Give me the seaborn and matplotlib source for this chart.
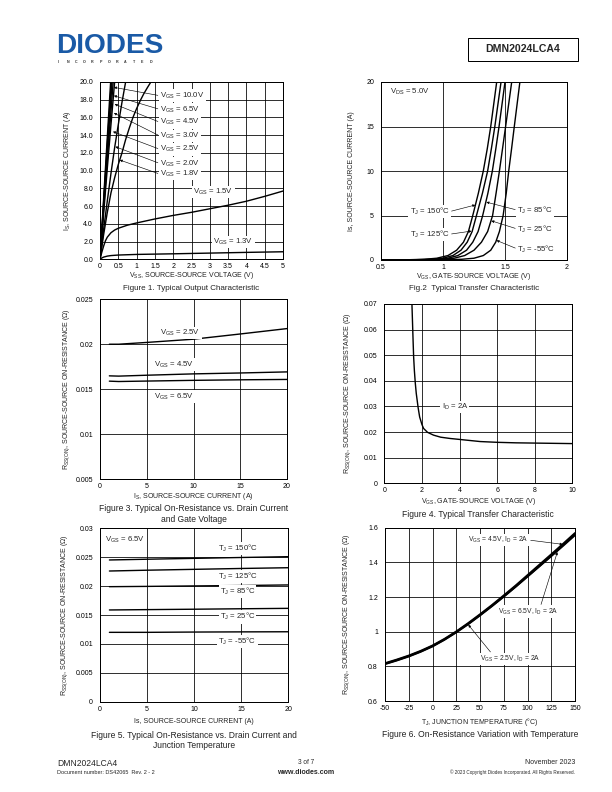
import numpy as np
import pandas as pd
import seaborn as sns
import matplotlib.pyplot as plt
from matplotlib.patches import Rectangle

# ---- Figure 1 : output characteristic (Vss, Is) ----
f1_vgs10_x = [0, 0.1, 0.2, 0.29]
f1_vgs10_y = [0, 6.9, 13.8, 20.0]
f1_vgs65_x = [0, 0.1, 0.2, 0.31]
f1_vgs65_y = [0, 6.5, 13.0, 20.0]
f1_vgs45_x = [0, 0.1, 0.2, 0.33]
f1_vgs45_y = [0, 6.2, 12.3, 20.0]
f1_vgs30_x = [0, 0.1, 0.2, 0.3, 0.36]
f1_vgs30_y = [0, 5.7, 11.3, 16.7, 20.0]
f1_vgs25_x = [0, 0.1, 0.2, 0.3, 0.4]
f1_vgs25_y = [0, 5.2, 10.3, 15.2, 20.0]
f1_vgs20_x = [0, 0.1, 0.2, 0.3, 0.4, 0.5, 0.6, 0.7]
f1_vgs20_y = [0, 3.4, 6.6, 9.7, 12.6, 15.2, 17.7, 20.0]
f1_vgs18_x = [0, 0.1, 0.2, 0.3, 0.4, 0.5, 0.6, 0.7, 0.8, 0.9, 1.0, 1.1, 1.2, 1.3, 1.39]
f1_vgs18_y = [0, 2.8, 5.3, 7.5, 9.2, 10.7, 12.0, 13.5, 14.8, 16.0, 17.0, 17.9, 18.7, 19.4, 20.0]
f1_vgs15_x = [0, 0.05, 0.1, 0.15, 0.2, 0.3, 0.4, 0.5, 0.75, 1, 1.5, 2, 2.5, 3, 3.5, 4, 4.5, 5]
f1_vgs15_y = [0, 0.8, 1.5, 2.1, 2.5, 3.0, 3.3, 3.5, 3.85, 4.1, 4.55, 4.95, 5.3, 5.7, 6.1, 6.55, 7.1, 7.7]
f1_vgs13_x = [0, 0.05, 0.1, 0.2, 0.3, 0.5, 1, 2, 3, 4, 5]
f1_vgs13_y = [0, 0.15, 0.25, 0.36, 0.42, 0.48, 0.55, 0.62, 0.7, 0.78, 0.85]

# ---- Figure 2 : transfer characteristic ----
f2_is = [0, 0.02, 0.08, 0.2, 0.5, 1.1, 2.0, 3.2, 5.0, 7.5, 10.0, 12.5, 15.0, 20.0]
f2_t150 = [0.5, 0.7, 0.85, 0.95, 1.04, 1.11, 1.165, 1.205, 1.24, 1.285, 1.325, 1.357, 1.385, 1.433]
f2_t125 = [0.5, 0.75, 0.9, 1.0, 1.08, 1.145, 1.195, 1.235, 1.27, 1.318, 1.36, 1.39, 1.418, 1.468]
f2_t85 = [0.5, 0.8, 0.95, 1.04, 1.12, 1.19, 1.24, 1.283, 1.32, 1.362, 1.398, 1.426, 1.452, 1.50]
f2_t25 = [0.5, 0.85, 1.0, 1.09, 1.175, 1.25, 1.31, 1.36, 1.40, 1.428, 1.455, 1.48, 1.505, 1.554]
f2_tm55 = [0.5, 1.0, 1.15, 1.25, 1.325, 1.385, 1.425, 1.455, 1.485, 1.51, 1.53, 1.553, 1.575, 1.62]

# ---- Figure 3 : Rss(on) vs Is and Vgs ----
f3_is = [1, 2, 5, 10, 15, 20]
f3_vgs25 = [0.0200, 0.0200, 0.0202, 0.02056, 0.02114, 0.02174]
f3_vgs45 = [0.01648, 0.01645, 0.01655, 0.0167, 0.0168, 0.01692]
f3_vgs65 = [0.01589, 0.01585, 0.0159, 0.01598, 0.01604, 0.01608]

# ---- Figure 4 : Rss(on) vs Vgs ----
f4_vgs = [1.47, 1.5, 1.53, 1.56, 1.6, 1.65, 1.7, 1.8, 1.88, 2.0, 2.09, 2.3, 2.62, 3.0,
          3.5, 4.04, 5.1, 6, 7, 8, 9, 10]
f4_rds = [0.07, 0.063, 0.056, 0.0494, 0.044, 0.039, 0.0351, 0.0295, 0.0259, 0.023, 0.0214,
          0.0199, 0.0188, 0.018, 0.0175, 0.0171, 0.0163, 0.016, 0.0158, 0.0157, 0.0156, 0.0155]

# ---- Figure 5 : Rss(on) vs Is and Tj ----
f5_is = [1, 5, 10, 15, 20]
f5_t150 = [0.02452, 0.02465, 0.0248, 0.02495, 0.02509]
f5_t125 = [0.02261, 0.02275, 0.0229, 0.02305, 0.02318]
f5_t85 = [0.0199, 0.01995, 0.02003, 0.0201, 0.0202]
f5_t25 = [0.01587, 0.01593, 0.016, 0.01608, 0.01615]
f5_tm55 = [0.0120, 0.0120, 0.01205, 0.01208, 0.0121]

# ---- Figure 6 : Rss(on) vs Tj ----
f6_tj = [-50, -37.5, -25, -12.5, 0, 12.5, 25, 37.5, 50, 62.5, 75, 87.5, 100, 112.5, 125, 137.5, 150]
f6_vgs25 = [0.813, 0.834, 0.857, 0.884, 0.915, 0.953, 0.996, 1.043, 1.094, 1.147, 1.202,
            1.259, 1.318, 1.377, 1.436, 1.496, 1.557]
f6_vgs45 = [0.818, 0.839, 0.862, 0.889, 0.920, 0.958, 1.001, 1.049, 1.100, 1.153, 1.209,
            1.266, 1.326, 1.386, 1.446, 1.507, 1.569]
f6_vgs65 = [0.815, 0.836, 0.859, 0.886, 0.917, 0.955, 0.998, 1.045, 1.096, 1.149, 1.204,
            1.261, 1.320, 1.379, 1.439, 1.500, 1.562]

sns.set_theme(style="white")
plt.rcParams['font.family'] = ['Liberation Sans', 'DejaVu Sans']
plt.rcParams['mathtext.fontset'] = 'custom'
plt.rcParams['mathtext.rm'] = 'Liberation Sans'
plt.rcParams['mathtext.it'] = 'Liberation Sans:italic'
plt.rcParams['mathtext.default'] = 'regular'

W, H = 612, 792
fig = plt.figure(figsize=(W / 72, H / 72), dpi=72)
fig.patch.set_facecolor('white')


def add_ax(l, t, r, b):
    return fig.add_axes([l / W, 1 - b / H, (r - l) / W, (b - t) / H])


def make_df(curves):
    parts = []
    for name, (xs, ys) in curves.items():
        parts.append(pd.DataFrame({'x': xs, 'y': ys, 'curve': name}))
    return pd.concat(parts, ignore_index=True)


def draw(ax, curves, lw=1.4):
    df = make_df(curves)
    sns.lineplot(data=df, x='x', y='y', units='curve', estimator=None,
                 color='black', lw=lw, ax=ax)


def style(ax, xlim, ylim, xticks, yticks, xtl, ytl, fs=7):
    ax.set_xlim(xlim)
    ax.set_ylim(ylim)
    ax.set_xticks(xticks)
    ax.set_yticks(yticks)
    ax.set_xticklabels(xtl)
    ax.set_yticklabels(ytl)
    ax.set_axisbelow(True)
    ax.grid(True, color='black', lw=0.8)
    ax.tick_params(length=0, labelsize=fs, colors='black')
    ax.tick_params(axis='x', pad=4)
    ax.tick_params(axis='y', pad=7)
    for s in ax.spines.values():
        s.set_color('black')
        s.set_linewidth(1.0)


def texts(ax, xlab, ylab, xl_y, yl_x, caps, fs=7, cfs=8.5):
    ax.set_xlabel(xlab, fontsize=fs, color='#222', va='center')
    ax.set_ylabel(ylab, fontsize=fs, color='#222', va='center')
    ax.xaxis.set_label_coords(0.5, xl_y)
    ax.yaxis.set_label_coords(yl_x, 0.5)
    for cy, c in caps:
        ax.text(0.5, cy, c, transform=ax.transAxes, ha='center', va='center',
                fontsize=cfs, color='#222')


box = dict(fc='white', ec='none', pad=1.2)
arr = dict(arrowstyle='-|>', color='black', lw=0.6, mutation_scale=5, shrinkA=1, shrinkB=0)
afs = 7.8

# Figure 1
ax1 = add_ax(100, 82, 283, 259.3)
draw(ax1, {
    '10.0': (f1_vgs10_x, f1_vgs10_y), '6.5': (f1_vgs65_x, f1_vgs65_y),
    '4.5': (f1_vgs45_x, f1_vgs45_y), '3.0': (f1_vgs30_x, f1_vgs30_y),
    '2.5': (f1_vgs25_x, f1_vgs25_y), '2.0': (f1_vgs20_x, f1_vgs20_y),
    '1.8': (f1_vgs18_x, f1_vgs18_y), '1.5': (f1_vgs15_x, f1_vgs15_y),
    '1.3': (f1_vgs13_x, f1_vgs13_y)})
xt = [0, 0.5, 1, 1.5, 2, 2.5, 3, 3.5, 4, 4.5, 5]
style(ax1, (0, 5), (0, 20), xt, np.arange(0, 21, 2), ['0', '0.5', '1', '1.5', '2', '2.5', '3', '3.5', '4', '4.5', '5'],
      ['%.1f' % v for v in np.arange(0, 21, 2)])
texts(ax1, 'V$_{SS}$, SOURCE-SOURCE VOLTAGE (V)', 'I$_{S}$, SOURCE-SOURCE CURRENT (A)', -0.094, -0.18,
      [(-0.162, 'Figure 1. Typical Output Characteristic')], cfs=8)
f1_labels = [('10.0V', 18.45, (0.38, 19.4)), ('6.5V', 16.9, (0.38, 18.45)), ('4.5V', 15.45, (0.40, 17.5)),
             ('3.0V', 13.9, (0.38, 16.5)), ('2.5V', 12.4, (0.355, 14.4)), ('2.0V', 10.8, (0.42, 12.7)),
             ('1.8V', 9.6, (0.54, 11.2))]
for lab, ly, tip in f1_labels:
    ax1.annotate('V$_{GS}$ = ' + lab, xy=tip, xytext=(1.64, ly), ha='left', va='center', fontsize=afs,
                 bbox=box, arrowprops=dict(arr, relpos=(0, 0.5)))
ax1.text(2.55, 7.6, 'V$_{GS}$ = 1.5V', ha='left', va='center', fontsize=afs, bbox=box)
ax1.text(3.1, 1.96, 'V$_{GS}$ = 1.3V', ha='left', va='center', fontsize=afs, bbox=box)

# Figure 2
ax2 = add_ax(381, 82, 567, 260)
draw(ax2, {'150': (f2_t150, f2_is), '125': (f2_t125, f2_is), '85': (f2_t85, f2_is),
           '25': (f2_t25, f2_is), '-55': (f2_tm55, f2_is)})
style(ax2, (0.5, 2), (0, 20), [0.5, 1, 1.5, 2], [0, 5, 10, 15, 20], ['0.5', '1', '1.5', '2'],
      ['0', '5', '10', '15', '20'])
texts(ax2, 'V$_{GS}$, GATE-SOURCE VOLTAGE (V)', 'Is, SOURCE-SOURCE CURRENT (A)', -0.094, -0.16,
      [(-0.16, 'Fig.2  Typical Transfer Characteristic')], cfs=8)
ax2.text(0.573, 18.84, 'V$_{DS}$ = 5.0V', ha='left', va='center', fontsize=afs, bbox=box)
ax2.annotate('T$_{J}$ = 150°C', xy=(1.26, 6.18), xytext=(0.73, 5.43), ha='left', va='center', fontsize=afs,
             bbox=box, arrowprops=dict(arr, relpos=(1, 0.5)))
ax2.annotate('T$_{J}$ = 125°C', xy=(1.23, 3.25), xytext=(0.73, 2.89), ha='left', va='center', fontsize=afs,
             bbox=box, arrowprops=dict(arr, relpos=(1, 0.5)))
ax2.annotate('T$_{J}$ = 85°C', xy=(1.35, 6.5), xytext=(1.6, 5.6), ha='left', va='center', fontsize=afs,
             bbox=box, arrowprops=dict(arr, relpos=(0, 0.5)))
ax2.annotate('T$_{J}$ = 25°C', xy=(1.39, 4.4), xytext=(1.6, 3.48), ha='left', va='center', fontsize=afs,
             bbox=box, arrowprops=dict(arr, relpos=(0, 0.5)))
ax2.annotate('T$_{J}$ = -55°C', xy=(1.432, 2.2), xytext=(1.6, 1.24), ha='left', va='center', fontsize=afs,
             bbox=box, arrowprops=dict(arr, relpos=(0, 0.5)))

rlab = 'R$_{SS(ON)}$, SOURCE-SOURCE ON-RESISTANCE (Ω)'

# Figure 3
ax3 = add_ax(100, 299.3, 287, 479)
draw(ax3, {'2.5': (f3_is, f3_vgs25), '4.5': (f3_is, f3_vgs45), '6.5': (f3_is, f3_vgs65)})
style(ax3, (0, 20), (0.005, 0.025), [0, 5, 10, 15, 20], [0.005, 0.01, 0.015, 0.02, 0.025],
      ['0', '5', '10', '15', '20'], ['0.005', '0.01', '0.015', '0.02', '0.025'])
texts(ax3, 'I$_{S}$, SOURCE-SOURCE CURRENT (A)', rlab, -0.099, -0.176,
      [(-0.163, 'Figure 3. Typical On-Resistance vs. Drain Current'), (-0.226, 'and Gate Voltage')])
ax3.text(8.6, 0.02124, 'V$_{GS}$ = 2.5V', ha='center', va='center', fontsize=afs, bbox=box)
ax3.text(7.9, 0.01774, 'V$_{GS}$ = 4.5V', ha='center', va='center', fontsize=afs, bbox=box)
ax3.text(7.9, 0.01416, 'V$_{GS}$ = 6.5V', ha='center', va='center', fontsize=afs, bbox=box)

# Figure 4
ax4 = add_ax(384.3, 304, 572.3, 483.3)
draw(ax4, {'2A': (f4_vgs, f4_rds)})
yt4 = [0, 0.01, 0.02, 0.03, 0.04, 0.05, 0.06, 0.07]
style(ax4, (0, 10), (0, 0.07), [0, 2, 4, 6, 8, 10], yt4, ['0', '2', '4', '6', '8', '10'],
      ['0'] + ['%.2f' % v for v in yt4[1:]])
texts(ax4, 'V$_{GS}$, GATE-SOURCE VOLTAGE (V)', rlab, -0.103, -0.197,
      [(-0.172, 'Figure 4. Typical Transfer Characteristic')])
ax4.text(3.05, 0.0298, 'I$_{D}$ = 2A', ha='left', va='center', fontsize=afs, bbox=box)

# Figure 5
ax5 = add_ax(100, 528.3, 288.3, 701.7)
draw(ax5, {'150': (f5_is, f5_t150), '125': (f5_is, f5_t125), '85': (f5_is, f5_t85),
           '25': (f5_is, f5_t25), '-55': (f5_is, f5_tm55)})
yt5 = [0, 0.005, 0.01, 0.015, 0.02, 0.025, 0.03]
style(ax5, (0, 20), (0, 0.03), [0, 5, 10, 15, 20], yt5, ['0', '5', '10', '15', '20'],
      ['0', '0.005', '0.01', '0.015', '0.02', '0.025', '0.03'])
texts(ax5, 'Is, SOURCE-SOURCE CURRENT (A)', rlab, -0.115, -0.186,
      [(-0.196, 'Figure 5. Typical On-Resistance vs. Drain Current and'), (-0.255, 'Junction Temperature')])
ax5.text(0.53, 0.02798, 'V$_{GS}$ = 6.5V', ha='left', va='center', fontsize=afs, bbox=box)
for lab, ly in [('150', 0.02654), ('125', 0.02163), ('85', 0.01903), ('25', 0.0147), ('-55', 0.01038)]:
    ax5.text(14.6, ly, 'T$_{J}$ = ' + lab + '°C', ha='center', va='center', fontsize=afs, bbox=box)

# Figure 6
ax6 = add_ax(385, 527.7, 575, 701)
draw(ax6, {'2.5': (f6_tj, f6_vgs25), '4.5': (f6_tj, f6_vgs45), '6.5': (f6_tj, f6_vgs65)}, lw=2.0)
xt6 = [-50, -25, 0, 25, 50, 75, 100, 125, 150]
style(ax6, (-50, 150), (0.6, 1.6), xt6, [0.6, 0.8, 1.0, 1.2, 1.4, 1.6], [str(v) for v in xt6],
      ['0.6', '0.8', '1', '1.2', '1.4', '1.6'])
texts(ax6, 'T$_{J}$, JUNCTION TEMPERATURE (°C)', rlab, -0.119, -0.2,
      [(-0.196, 'Figure 6. On-Resistance Variation with Temperature')])
f6fs = 6.8
ax6.annotate('V$_{GS}$ = 4.5V, I$_{D}$ = 2A', xy=(137, 1.504), xytext=(37.4, 1.529), ha='left', va='center',
             fontsize=f6fs, bbox=box, arrowprops=dict(arr, relpos=(1, 0.5)))
ax6.annotate('V$_{GS}$ = 6.5V, I$_{D}$ = 2A', xy=(131.4, 1.459), xytext=(69, 1.115), ha='left', va='center',
             fontsize=f6fs, bbox=box, arrowprops=dict(arr, relpos=(0.7, 1)))
ax6.annotate('V$_{GS}$ = 2.5V, I$_{D}$ = 2A', xy=(37.7, 1.04), xytext=(50, 0.842), ha='left', va='center',
             fontsize=f6fs, bbox=box, arrowprops=dict(arr, relpos=(0.2, 1)))

# header
fig.text(56 / W, 1 - 46 / H, 'DIODES', fontsize=28, fontweight='heavy', color='#1a5aa6',
         ha='left', va='center')
for i, ch in enumerate('INCORPORATED'):
    fig.text((58 + i * 8.3) / W, 1 - 62 / H, ch, fontsize=3.6, fontweight='bold', color='#333',
             ha='left', va='center')
fig.add_artist(Rectangle((468 / W, 1 - 61 / H), 110 / W, 23 / H, transform=fig.transFigure,
                         fill=False, ec='black', lw=1))
fig.text(523 / W, 1 - 49.5 / H, 'DMN2024LCA4', fontsize=10.5, fontweight='bold', ha='center', va='center')

# footer
fig.text(57 / W, 1 - 763 / H, 'DMN2024LCA4', fontsize=8.5, ha='left', va='center')
fig.text(57 / W, 1 - 772.5 / H, 'Document number: DS42065  Rev. 2 - 2', fontsize=5.5, ha='left', va='center')
fig.text(306 / W, 1 - 762 / H, '3 of 7', fontsize=6.5, ha='center', va='center')
fig.text(306 / W, 1 - 772 / H, 'www.diodes.com', fontsize=7, fontweight='bold', ha='center', va='center')
fig.text(575 / W, 1 - 762 / H, 'November 2023', fontsize=7, ha='right', va='center')
fig.text(575 / W, 1 - 772 / H, '© 2023 Copyright Diodes Incorporated. All Rights Reserved.', fontsize=4.6,
         ha='right', va='center')

fig.savefig('out.png', dpi=72, facecolor='white')
